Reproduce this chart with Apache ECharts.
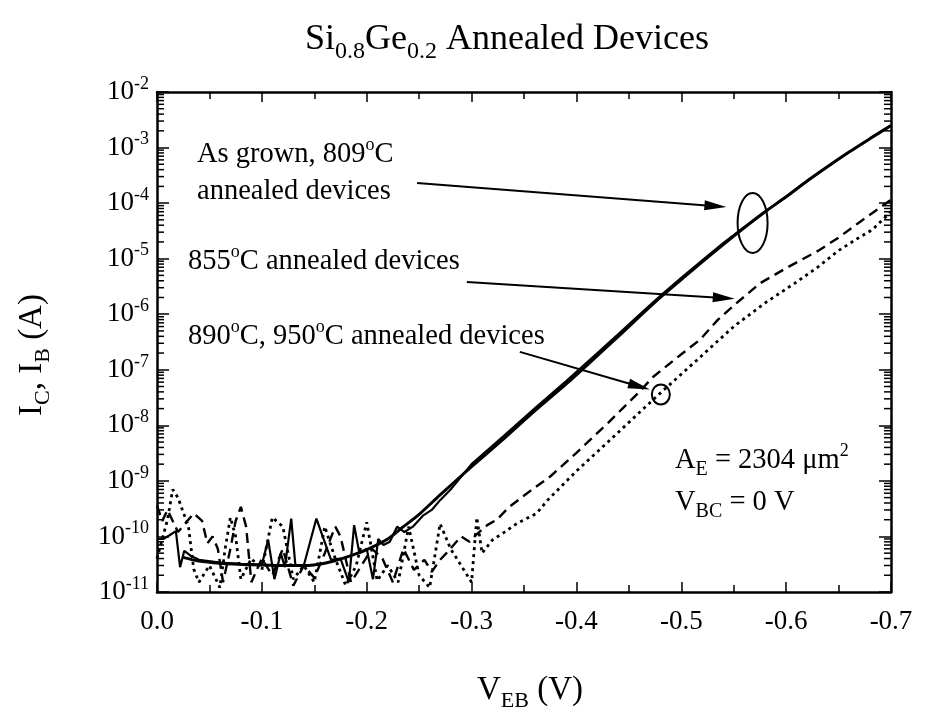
<!DOCTYPE html>
<html><head><meta charset="utf-8">
<script src="https://cdn.jsdelivr.net/npm/echarts@6/dist/echarts.min.js"></script>
<style>html,body{margin:0;padding:0;background:#fff}#c{width:926px;height:717px}</style>
</head><body><div id="c"></div>
<script>
// ---------- data ----------
const xTicks = [0, -0.1, -0.2, -0.3, -0.4, -0.5, -0.6, -0.7];
const yDecades = [1e-11, 1e-10, 1e-9, 1e-8, 1e-7, 1e-6, 1e-5, 1e-4, 1e-3, 1e-2];
const minorMultipliers = [2, 3, 4, 5, 6, 7, 8, 9];

// As grown (smooth solid)
const asGrownV = [-0.025,-0.04,-0.06,-0.09,-0.12,-0.14,-0.16,-0.18,-0.20,-0.22,-0.235,-0.25,-0.27,-0.30,-0.33,-0.36,-0.39,-0.42,-0.44,-0.46,-0.48,-0.50,-0.52,-0.54,-0.56,-0.58,-0.60,-0.62,-0.64,-0.66,-0.68,-0.70];
const asGrownI = [4.2e-11,3.6e-11,3.3e-11,3.1e-11,3.0e-11,3.0e-11,3.3e-11,4.2e-11,5.8e-11,9e-11,1.5e-10,2.5e-10,5.6e-10,1.8e-9,5.6e-9,1.8e-8,5.5e-8,1.8e-7,4e-7,9e-7,2e-6,4.2e-6,8.8e-6,1.8e-5,3.6e-5,7e-5,1.3e-4,2.5e-4,4.6e-4,8.3e-4,1.45e-3,2.5e-3];

// 809 C annealed (solid, noisy at low bias)
const a809V = [0,-0.006,-0.012,-0.018,-0.022,-0.026,-0.032,-0.04,-0.06,-0.08,-0.1,-0.106,-0.112,-0.118,-0.122,-0.128,-0.132,-0.14,-0.152,-0.158,-0.166,-0.175,-0.183,-0.188,-0.193,-0.2,-0.206,-0.211,-0.216,-0.222,-0.229,-0.236,-0.244,-0.254,-0.262,-0.27,-0.28,-0.30,-0.33,-0.36,-0.39,-0.42,-0.44,-0.46,-0.48,-0.50,-0.52,-0.54,-0.56,-0.58,-0.60,-0.62,-0.64,-0.66,-0.68,-0.70];
const a809I = [9e-11,9e-11,1.05e-10,1.25e-10,2.8e-11,5.5e-11,4.5e-11,3.8e-11,3.4e-11,3.2e-11,3.1e-11,8.7e-11,1.7e-11,5e-11,2.8e-11,2.1e-10,3e-11,3e-11,2.1e-10,1e-10,3.8e-11,4e-11,1.5e-11,1.6e-10,5e-11,6e-11,1.7e-11,9e-11,7e-11,8e-11,1.5e-10,1.2e-10,1.5e-10,2.4e-10,3e-10,4.5e-10,7e-10,2e-9,6.3e-9,2e-8,6.2e-8,2e-7,4.4e-7,9.8e-7,2.15e-6,4.5e-6,9.3e-6,1.9e-5,3.7e-5,7.1e-5,1.3e-4,2.5e-4,4.6e-4,8.3e-4,1.45e-3,2.5e-3];

// 855 C annealed (dashed)
const a855V = [0,-0.005,-0.01,-0.02,-0.035,-0.043,-0.048,-0.053,-0.058,-0.063,-0.07,-0.075,-0.08,-0.085,-0.09,-0.1,-0.11,-0.12,-0.13,-0.14,-0.15,-0.16,-0.17,-0.175,-0.185,-0.195,-0.205,-0.215,-0.225,-0.235,-0.245,-0.255,-0.262,-0.27,-0.276,-0.29,-0.298,-0.305,-0.315,-0.324,-0.336,-0.353,-0.375,-0.40,-0.43,-0.46,-0.473,-0.50,-0.518,-0.535,-0.553,-0.575,-0.602,-0.631,-0.65,-0.669,-0.685,-0.70];
const a855I = [3.6e-10,1.9e-10,3e-10,1.2e-10,2.6e-10,1.9e-10,7.5e-11,1e-10,6e-11,1.5e-11,6e-11,1.9e-10,3.4e-10,1.5e-10,1.5e-11,4e-11,2e-11,6e-11,1.3e-11,3e-11,1.8e-11,5e-11,1.5e-10,1e-10,1.5e-11,3e-11,6e-11,4e-11,1.5e-11,6e-11,2.5e-11,3.8e-11,2.3e-11,3.8e-11,5e-11,1e-10,8e-11,1.1e-10,1.6e-10,2e-10,3.4e-10,6e-10,1.2e-9,3.2e-9,1.1e-8,4e-8,7.4e-8,1.9e-7,3.5e-7,8e-7,1.6e-6,3.6e-6,7.1e-6,1.4e-5,2.4e-5,4.4e-5,7.2e-5,1.15e-4];

// 890 C, 950 C annealed (dotted)
const a890V = [0,-0.01,-0.015,-0.02,-0.03,-0.035,-0.04,-0.05,-0.06,-0.065,-0.07,-0.075,-0.08,-0.09,-0.10,-0.11,-0.12,-0.13,-0.14,-0.15,-0.16,-0.17,-0.18,-0.19,-0.20,-0.21,-0.22,-0.23,-0.24,-0.25,-0.26,-0.27,-0.28,-0.29,-0.30,-0.305,-0.31,-0.32,-0.33,-0.343,-0.362,-0.373,-0.40,-0.43,-0.46,-0.48,-0.515,-0.55,-0.58,-0.608,-0.63,-0.65,-0.668,-0.682,-0.70];
const a890I = [4e-11,2e-10,7e-10,5e-10,1.5e-10,2.6e-11,1.5e-11,3e-11,1.2e-11,6e-11,2.2e-10,1e-10,1.7e-11,4e-11,2.5e-11,2.2e-10,1.5e-10,1.7e-11,3e-11,1.5e-11,1.5e-10,4e-11,1.3e-11,3e-11,1.8e-10,1.6e-11,3e-11,1.5e-11,1.5e-10,2e-11,1.2e-11,1.7e-10,6e-11,3e-11,1.5e-11,2.2e-10,5e-11,8.7e-11,1.15e-10,1.7e-10,2.6e-10,4.6e-10,1.5e-9,5e-9,1.7e-8,3.8e-8,1.5e-7,6e-7,1.6e-6,3.6e-6,7e-6,1.4e-5,2.3e-5,3.3e-5,7e-5];

// annotations (data coordinates)
const arrowsData = [
  [-0.248, 2.3e-4, -0.543, 8.5e-5],
  [-0.2955, 3.8e-6, -0.551, 1.9e-6],
  [-0.346, 2.1e-7, -0.470, 4.4e-8]
];
const ellipseCenter = [[-0.568, 4.4e-5]];
const circleCenter = [[-0.4805, 3.6e-8]];

// ---------- helpers ----------
const SERIF = 'Liberation Serif';
const zip = (xs, ys) => xs.map((x, i) => [x, ys[i]]);
const leftMinor = [], rightMinor = [];
yDecades.slice(0, -1).forEach(d => minorMultipliers.forEach(m => {
  leftMinor.push([xTicks[0], d * m]);
  rightMinor.push([xTicks[xTicks.length - 1], d * m]);
}));

const chart = echarts.init(document.getElementById('c'), null, {renderer: 'canvas'});

function makeMinorRender(dir) {
  return function (params, api) {
    const p = api.coord([api.value(0), api.value(1)]);
    return {type: 'line', shape: {x1: p[0], y1: p[1], x2: p[0] + dir * 7, y2: p[1]},
      style: {stroke: '#000', lineWidth: 1.5}};
  };
}
function arrowRender(params, api) {
  const a = api.coord([api.value(0), api.value(1)]);
  const b = api.coord([api.value(2), api.value(3)]);
  const dx = b[0] - a[0], dy = b[1] - a[1];
  const L = Math.hypot(dx, dy), ux = dx / L, uy = dy / L;
  const hl = 22, hw = 5;
  const bx = b[0] - ux * hl, by = b[1] - uy * hl;
  return {type: 'group', children: [
    {type: 'line', shape: {x1: a[0], y1: a[1], x2: bx + ux * 2, y2: by + uy * 2}, style: {stroke: '#000', lineWidth: 2}},
    {type: 'polygon', shape: {points: [[b[0], b[1]], [bx - uy * hw, by + ux * hw], [bx + uy * hw, by - ux * hw]]}, style: {fill: '#000'}}
  ]};
}
function ellipseRender(params, api) {
  const c = api.coord([api.value(0), api.value(1)]);
  return {type: 'ellipse', shape: {cx: c[0], cy: c[1], rx: 15, ry: 30}, style: {fill: 'none', stroke: '#000', lineWidth: 2}};
}
function circleRender(params, api) {
  const c = api.coord([api.value(0), api.value(1)]);
  return {type: 'ellipse', shape: {cx: c[0], cy: c[1], rx: 9, ry: 10}, style: {fill: 'none', stroke: '#000', lineWidth: 2}};
}

const axisLineStyle = {color: '#000', width: 2.5};
const tickStyle = {color: '#000', width: 1.5};

const mainRich = {
  t: {fontFamily: SERIF, fontSize: 28.5, lineHeight: 38, fill: '#000', color: '#000'},
  sup: {fontFamily: SERIF, fontSize: 18, lineHeight: 18, verticalAlign: 'top', fill: '#000', color: '#000'},
  sub: {fontFamily: SERIF, fontSize: 20, lineHeight: 20, verticalAlign: 'bottom', fill: '#000', color: '#000'}
};
function txt(x, y, text, rich, extra) {
  return Object.assign({type: 'text', x: x, y: y, silent: true,
    style: {text: text, rich: rich || mainRich, align: 'left', verticalAlign: 'middle', fill: '#000'}}, extra || {});
}
const bigRich = {
  t: {fontFamily: SERIF, fontSize: 36, lineHeight: 48, fill: '#000'},
  sub: {fontFamily: SERIF, fontSize: 24, lineHeight: 24, verticalAlign: 'bottom', fill: '#000'}
};
const labRich = {
  t: {fontFamily: SERIF, fontSize: 33, lineHeight: 44, fill: '#000'},
  sub: {fontFamily: SERIF, fontSize: 22, lineHeight: 22, verticalAlign: 'bottom', fill: '#000'}
};

const option = {
  animation: false,
  backgroundColor: '#fff',
  grid: {left: 157, right: 35, top: 92, bottom: 125},
  xAxis: [{
    type: 'value', min: -0.7, max: 0, interval: 0.1, inverse: true, position: 'bottom',
    axisLine: {onZero: false, lineStyle: axisLineStyle},
    axisTick: {inside: true, length: 10, lineStyle: tickStyle},
    minorTick: {show: true, splitNumber: 2, length: 7, lineStyle: tickStyle},
    splitLine: {show: false},
    axisLabel: {margin: 16, color: '#000', fontFamily: SERIF, fontSize: 27,
      formatter: v => (Math.abs(v) < 1e-9 ? '0.0' : v.toFixed(1))}
  }, {
    type: 'value', min: -0.7, max: 0, interval: 0.1, inverse: true, position: 'top',
    axisLine: {onZero: false, lineStyle: axisLineStyle},
    axisTick: {inside: true, length: 10, lineStyle: tickStyle},
    minorTick: {show: true, splitNumber: 2, length: 7, lineStyle: tickStyle},
    splitLine: {show: false}, axisLabel: {show: false}
  }],
  yAxis: [{
    type: 'log', logBase: 10, min: 1e-11, max: 1e-2, splitNumber: 9, position: 'left',
    axisLine: {show: true, onZero: false, lineStyle: axisLineStyle},
    axisTick: {show: true, inside: true, length: 12, lineStyle: tickStyle},
    splitLine: {show: false},
    axisLabel: {margin: 8, color: '#000',
      formatter: v => '{b|10}{s|' + Math.round(Math.log10(v)) + '}',
      rich: {
        b: {fontFamily: SERIF, fontSize: 27, lineHeight: 34, color: '#000'},
        s: {fontFamily: SERIF, fontSize: 18, lineHeight: 18, verticalAlign: 'top', color: '#000'}
      }}
  }, {
    type: 'log', logBase: 10, min: 1e-11, max: 1e-2, splitNumber: 9, position: 'right',
    axisLine: {show: true, onZero: false, lineStyle: axisLineStyle},
    axisTick: {show: true, inside: true, length: 12, lineStyle: tickStyle},
    splitLine: {show: false}, axisLabel: {show: false}
  }],
  series: [
    {name: 'As grown', type: 'line', data: zip(asGrownV, asGrownI), showSymbol: false, symbol: 'none', smooth: 0.3,
      lineStyle: {color: '#000', width: 3}, z: 5},
    {name: '809', type: 'line', data: zip(a809V, a809I), showSymbol: false, symbol: 'none',
      lineStyle: {color: '#000', width: 2.2}, z: 5},
    {name: '855', type: 'line', data: zip(a855V, a855I), showSymbol: false, symbol: 'none',
      lineStyle: {color: '#000', width: 2.4, type: [10, 6]}, z: 4},
    {name: '890/950', type: 'line', data: zip(a890V, a890I), showSymbol: false, symbol: 'none',
      lineStyle: {color: '#000', width: 2.8, type: [3, 4]}, z: 4},
    {type: 'custom', data: leftMinor, renderItem: makeMinorRender(1), silent: true, clip: false, z: 20},
    {type: 'custom', data: rightMinor, renderItem: makeMinorRender(-1), silent: true, clip: false, z: 20},
    {type: 'custom', data: arrowsData, encode: {x: [0, 2], y: [1, 3]}, renderItem: arrowRender, silent: true, z: 7},
    {type: 'custom', data: ellipseCenter, renderItem: ellipseRender, silent: true, z: 7},
    {type: 'custom', data: circleCenter, renderItem: circleRender, silent: true, z: 7}
  ],
  graphic: [
    txt(507, 40, '', null, {style: {text: '{t|Si}{sub|0.8}{t|Ge}{sub|0.2}{t| Annealed Devices}', rich: bigRich, align: 'center', verticalAlign: 'middle'}}),
    txt(530, 690, '', null, {style: {text: '{t|V}{sub|EB}{t| (V)}', rich: labRich, align: 'center', verticalAlign: 'middle'}}),
    txt(32, 355, '', null, {rotation: Math.PI / 2, style: {text: '{t|I}{sub|C}{t|, I}{sub|B}{t| (A)}', rich: labRich, align: 'center', verticalAlign: 'middle'}}),
    txt(197, 155, '{t|As grown, 809}{sup|o}{t|C}'),
    txt(197, 192, '{t|annealed devices}'),
    txt(188, 262, '{t|855}{sup|o}{t|C annealed devices}'),
    txt(188, 337, '{t|890}{sup|o}{t|C, 950}{sup|o}{t|C annealed devices}'),
    txt(675, 461, '{t|A}{sub|E}{t| = 2304 \u03bcm}{sup|2}'),
    txt(675, 503, '{t|V}{sub|BC}{t| = 0 V}')
  ]
};
chart.setOption(option);
</script>
</body></html>
